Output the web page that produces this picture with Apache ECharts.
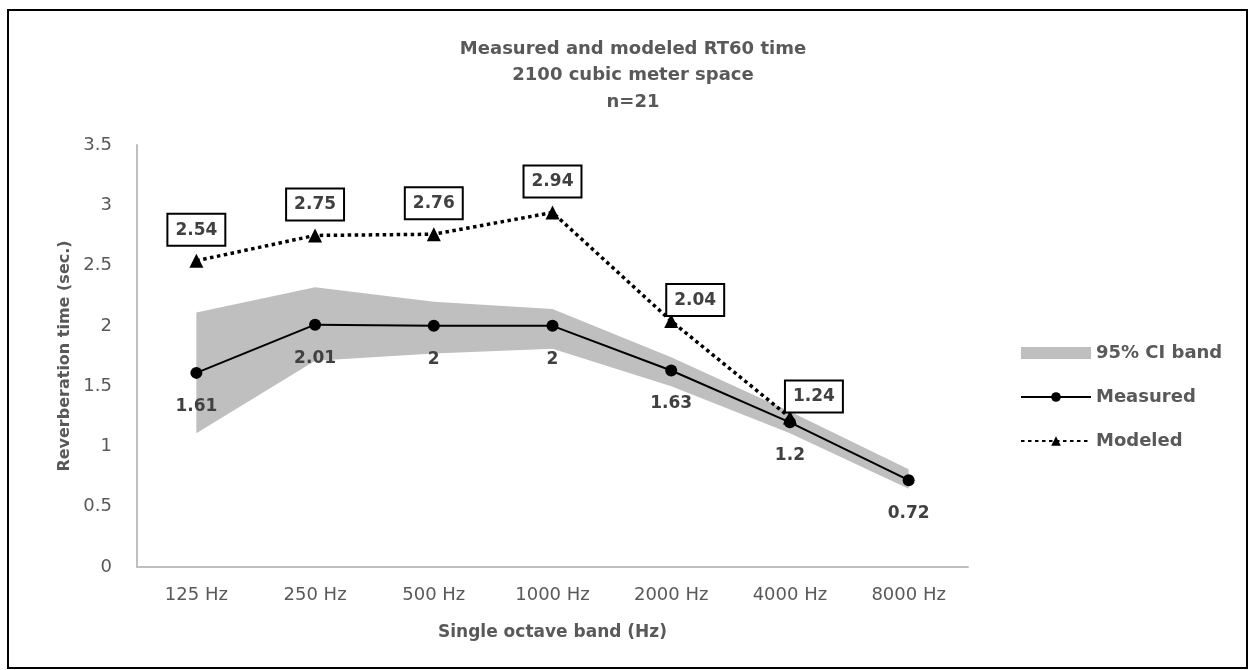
<!DOCTYPE html>
<html>
<head>
<meta charset="utf-8">
<script src="https://cdn.jsdelivr.net/npm/echarts@6/dist/echarts.min.js"></script>
<style>
  html, body { margin: 0; padding: 0; background: #fff; }
  #chart { width: 1250px; height: 670px; }
</style>
</head>
<body>
<div id="chart"></div>
<script>
var bands = ['125 Hz', '250 Hz', '500 Hz', '1000 Hz', '2000 Hz', '4000 Hz', '8000 Hz'];
var measured = [1.61, 2.01, 2, 2, 1.63, 1.2, 0.72];
var modeled = [2.54, 2.75, 2.76, 2.94, 2.04, 1.24, null];
var ciLow = [1.11, 1.71, 1.77, 1.81, 1.50, 1.11, 0.65];
var ciHigh = [2.11, 2.32, 2.20, 2.14, 1.74, 1.29, 0.81];

var font = '"DejaVu Sans", sans-serif';
var grey = '#595959';

// band drawn as stacked area: invisible lower part + gray width
var ciWidth = ciHigh.map(function (v, i) { return +(v - ciLow[i]).toFixed(2); });

// last two modeled boxes sit up and to the right of their points
var modeledData = modeled.map(function (v, i) {
    if (i >= 4) {
        return { value: v, label: { offset: [24, 10] } };
    }
    return v;
});

var chart = echarts.init(document.getElementById('chart'));
var option = {
    backgroundColor: '#fff',
    animation: false,
    textStyle: { fontFamily: font },
    title: {
        text: 'Measured and modeled RT60 time\n2100 cubic meter space\nn=21',
        left: 628,
        textAlign: 'center',
        top: 31,
        textStyle: {
            fontFamily: font,
            fontSize: 18,
            fontWeight: 'bold',
            color: grey,
            lineHeight: 26.5
        }
    },
    graphic: [{
        type: 'rect',
        shape: { x: 8, y: 10, width: 1239, height: 658 },
        style: { fill: 'none', stroke: '#000', lineWidth: 2 },
        silent: true
    }],
    legend: {
        orient: 'vertical',
        left: 1015,
        top: 339,
        itemGap: 26,
        itemWidth: 70,
        itemHeight: 12,
        textStyle: { fontFamily: font, fontSize: 18, fontWeight: 'bold', color: grey },
        data: [
            { name: '95% CI band', icon: 'rect', itemStyle: { color: '#bfbfbf' } },
            { name: 'Measured' },
            { name: 'Modeled' }
        ]
    },
    grid: { left: 137, right: 282, top: 145, bottom: 103 },
    xAxis: {
        type: 'category',
        data: bands,
        boundaryGap: true,
        axisLine: { lineStyle: { color: '#bfbfbf', width: 2 } },
        axisTick: { show: false },
        axisLabel: { fontFamily: font, fontSize: 18, color: grey, margin: 19 },
        name: 'Single octave band (Hz)',
        nameLocation: 'middle',
        nameGap: 57,
        nameTextStyle: { fontFamily: font, fontSize: 17, fontWeight: 'bold', color: grey }
    },
    yAxis: {
        type: 'value',
        min: 0,
        max: 3.5,
        interval: 0.5,
        axisLine: { show: true, lineStyle: { color: '#bfbfbf', width: 2 } },
        axisTick: { show: false },
        splitLine: { show: false },
        axisLabel: { fontFamily: font, fontSize: 18, color: grey, margin: 25 },
        name: 'Reverberation time (sec.)',
        nameLocation: 'middle',
        nameGap: 50,
        nameTextStyle: { fontFamily: font, fontSize: 16, fontWeight: 'bold', color: grey }
    },
    series: [
        {
            name: 'ciLow',
            type: 'line',
            stack: 'ci',
            data: ciLow,
            symbol: 'none',
            lineStyle: { width: 0 },
            areaStyle: { color: 'rgba(0,0,0,0)' },
            silent: true,
            z: 1
        },
        {
            name: '95% CI band',
            type: 'line',
            stack: 'ci',
            data: ciWidth,
            symbol: 'none',
            lineStyle: { width: 0 },
            areaStyle: { color: '#bfbfbf', opacity: 1 },
            itemStyle: { color: '#bfbfbf' },
            silent: true,
            z: 1
        },
        {
            name: 'Measured',
            type: 'line',
            data: measured,
            symbol: 'circle',
            symbolSize: 12,
            itemStyle: { color: '#000' },
            lineStyle: { color: '#000', width: 2 },
            label: {
                show: true,
                position: 'bottom',
                distance: 19,
                fontFamily: font,
                fontSize: 17,
                fontWeight: 'bold',
                color: '#404040'
            },
            z: 3
        },
        {
            name: 'Modeled',
            type: 'line',
            data: modeledData,
            symbol: 'triangle',
            symbolSize: 14,
            itemStyle: { color: '#000' },
            lineStyle: { color: '#000', width: 3.5, type: [3.5, 3.5] },
            label: {
                show: true,
                position: 'top',
                distance: 9,
                fontFamily: font,
                fontSize: 17,
                fontWeight: 'bold',
                color: '#404040',
                backgroundColor: '#fff',
                borderColor: '#000',
                borderWidth: 2,
                padding: [7, 7, 6, 7]
            },
            z: 4
        }
    ]
};
chart.setOption(option);
</script>
</body>
</html>
